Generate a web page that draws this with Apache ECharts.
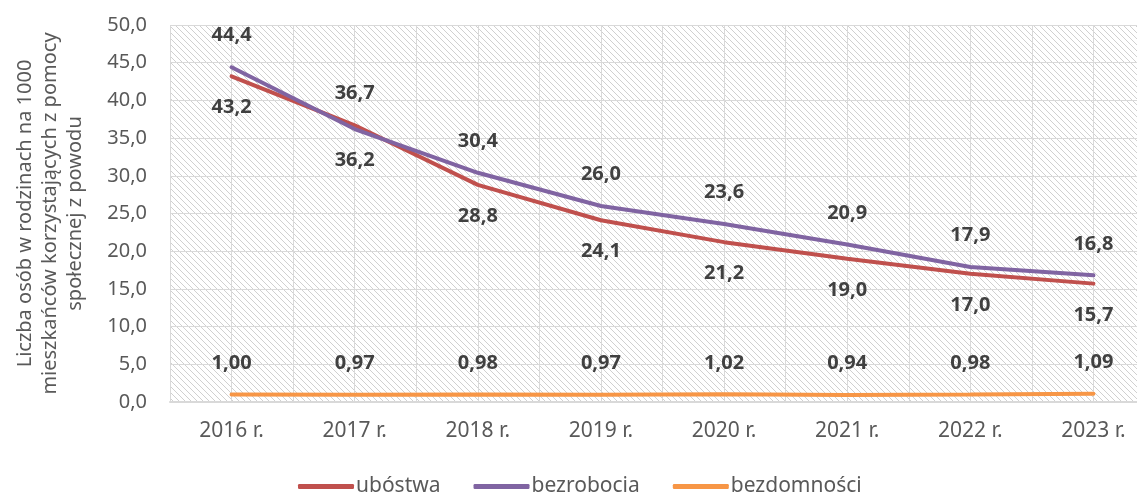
<!DOCTYPE html>
<html>
<head>
    <meta charset="utf-8">
    <title>ECharts</title>
    <style type="text/css">
        html, body {
            width: 100%;
            height: 100%;
            margin: 0;
            padding: 0;
            overflow: hidden;
            background: #fff;
        }
        #main {
            width: 1160px;
            height: 495px;
        }
    </style>
    <script src="https://cdn.jsdelivr.net/npm/echarts@6/dist/echarts.min.js"></script>
</head>
<body>
<div id="main"></div>
<script type="text/javascript">
    // dane
    var lata = ['2016 r.', '2017 r.', '2018 r.', '2019 r.', '2020 r.', '2021 r.', '2022 r.', '2023 r.'];
    var ubostwa = [43.2, 36.7, 28.8, 24.1, 21.2, 19.0, 17.0, 15.7];
    var bezrobocia = [44.4, 36.2, 30.4, 26.0, 23.6, 20.9, 17.9, 16.8];
    var bezdomnosci = [1.00, 0.97, 0.98, 0.97, 1.02, 0.94, 0.98, 1.09];

    var myChart = echarts.init(document.getElementById('main'));

    // kreskowane tło obszaru wykresu
    var tile = document.createElement('canvas');
    tile.width = 6;
    tile.height = 6;
    var ctx = tile.getContext('2d');
    ctx.fillStyle = '#ffffff';
    ctx.fillRect(0, 0, 6, 6);
    ctx.strokeStyle = '#d0d0d0';
    ctx.lineWidth = 1;
    ctx.beginPath();
    ctx.moveTo(-1, -1); ctx.lineTo(7, 7);
    ctx.moveTo(-1, 5); ctx.lineTo(1, 7);
    ctx.moveTo(5, -1); ctx.lineTo(7, 1);
    ctx.stroke();

    function comma(v, d) {
        return Number(v).toFixed(d).replace('.', ',');
    }

    // wyższa linia ma etykietę nad punktem, niższa pod punktem
    function points(values, other) {
        return values.map(function (v, i) {
            var pos = 'top';
            if (other) pos = v >= other[i] ? 'top' : 'bottom';
            return { value: v, label: { position: pos } };
        });
    }

    var labelStyle = {
        show: true,
        color: '#404040',
        fontSize: 20,
        fontWeight: 'bold',
        fontFamily: 'Noto Sans',
        distance: 21
    };

    function serie(name, values, other, color, d) {
        return {
            name: name,
            type: 'line',
            xAxisIndex: 0,
            data: points(values, other),
            symbol: 'circle',
            symbolSize: 1,
            lineStyle: { width: 4, color: color, cap: 'round' },
            itemStyle: { color: color },
            label: Object.assign({}, labelStyle, {
                formatter: function (p) { return comma(p.value, d); }
            }),
            emphasis: { disabled: true }
        };
    }

    var option = {
        animation: false,
        textStyle: { fontFamily: 'Noto Sans' },
        grid: {
            left: 170,
            right: 5,
            top: 25,
            bottom: 93,
            show: true,
            borderWidth: 0,
            backgroundColor: { image: tile, repeat: 'repeat' }
        },
        legend: {
            top: 476,
            left: 298,
            padding: 0,
            icon: 'roundRect',
            itemWidth: 56,
            itemHeight: 5,
            itemGap: 33,
            textStyle: { color: '#595959', fontSize: 21, padding: [0, 0, 0, -3] },
            data: ['ubóstwa', 'bezrobocia', 'bezdomności']
        },
        xAxis: [{
            type: 'category',
            data: lata,
            boundaryGap: true,
            axisLine: { lineStyle: { color: '#d9d9d9', width: 2 } },
            axisTick: { show: false },
            axisLabel: { color: '#595959', fontSize: 21, margin: 19 },
            splitLine: { show: false }
        }, {
            type: 'value',
            min: 0,
            max: lata.length * 2,
            interval: 1,
            position: 'bottom',
            axisLine: { show: false },
            axisTick: { show: false },
            axisLabel: { show: false },
            splitLine: { show: true, lineStyle: { color: '#d9d9d9', width: 1 } }
        }],
        yAxis: {
            type: 'value',
            min: 0,
            max: 50,
            interval: 5,
            name: 'Liczba osób w rodzinach na 1000\nmieszkańców korzystających z pomocy\nspołecznej z powodu',
            nameLocation: 'middle',
            nameRotate: 90,
            nameGap: 82,
            nameTextStyle: { color: '#595959', fontSize: 20, lineHeight: 25, align: 'center' },
            axisLine: { show: false },
            axisTick: { show: false },
            axisLabel: {
                color: '#595959',
                fontSize: 20,
                margin: 23,
                formatter: function (v) { return comma(v, 1); }
            },
            splitLine: { lineStyle: { color: '#d9d9d9', width: 1 } }
        },
        series: [
            serie('ubóstwa', ubostwa, bezrobocia, '#C0504D', 1),
            serie('bezrobocia', bezrobocia, ubostwa, '#8064A2', 1),
            serie('bezdomności', bezdomnosci, null, '#F79646', 2)
        ]
    };

    myChart.setOption(option);
</script>
</body>
</html>
